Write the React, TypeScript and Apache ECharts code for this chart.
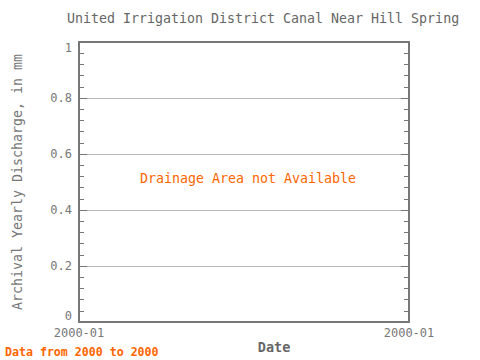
import React, { useEffect, useRef } from "react";
import * as echarts from "echarts";

const titleText = "United Irrigation District Canal Near Hill Spring";
const yAxisName = "Archival Yearly Discharge, in mm";
const xAxisName = "Date";
const xTickLabels = ["2000-01", "2000-01"];
const yTicks = [0, 0.2, 0.4, 0.6, 0.8, 1];
const noDataText = "Drainage Area not Available";
const footText = "Data from 2000 to 2000";

const FONT = "DejaVu Sans Mono";
const GRAY = "#777777";
const ORANGE = "#ff6600";

export default function App() {
  const ref = useRef<HTMLDivElement>(null);
  useEffect(() => {
    if (!ref.current) return;
    const chart = echarts.init(ref.current, undefined, { renderer: "svg" });
    const yBase = {
      type: "value",
      min: yTicks[0],
      max: yTicks[yTicks.length - 1],
      interval: 0.2,
      axisLine: { show: true, onZero: false, lineStyle: { color: GRAY, width: 2 } },
      axisTick: { show: true, inside: true, length: 8, lineStyle: { color: GRAY, width: 1 } },
      minorTick: { show: true, splitNumber: 5, length: 5, lineStyle: { color: GRAY, width: 1 } },
    };
    chart.setOption({
      animation: false,
      backgroundColor: "#ffffff",
      grid: { left: 79, right: 71, top: 42, bottom: 38, containLabel: false },
      xAxis: [
        {
          type: "value",
          min: 0,
          max: 1,
          interval: 1,
          axisLine: { show: true, onZero: false, lineStyle: { color: GRAY, width: 2 } },
          axisTick: { show: false },
          splitLine: { show: false },
          axisLabel: {
            color: GRAY,
            fontFamily: FONT,
            fontSize: 12,
            margin: 5,
            formatter: (v: number) => (v === 0 ? xTickLabels[0] : xTickLabels[1]),
          },
        },
        {
          type: "value",
          position: "top",
          min: 0,
          max: 1,
          interval: 1,
          axisLine: { show: true, onZero: false, lineStyle: { color: GRAY, width: 2 } },
          axisTick: { show: false },
          splitLine: { show: false },
          axisLabel: { show: false },
        },
      ],
      yAxis: [
        {
          ...yBase,
          position: "left",
          splitLine: { show: true, lineStyle: { color: "#bbbbbb", width: 1 } },
          axisLabel: {
            color: GRAY,
            fontFamily: FONT,
            fontSize: 12,
            margin: 7,
            verticalAlignMinLabel: "bottom",
            verticalAlignMaxLabel: "top",
            formatter: (v: number) => String(Math.round(v * 10) / 10),
          },
        },
        {
          ...yBase,
          position: "right",
          splitLine: { show: false },
          axisLabel: { show: false },
        },
      ],
      series: [
        {
          type: "line",
          data: [],
          xAxisIndex: 0,
          yAxisIndex: 0,
        },
      ],
      graphic: [
        {
          type: "text",
          x: 263,
          y: 18,
          style: {
            text: titleText,
            align: "center",
            verticalAlign: "middle",
            fill: "#666666",
            font: `13.3px "${FONT}"`,
          },
        },
        {
          type: "text",
          x: 17,
          y: 182,
          rotation: Math.PI / 2,
          style: {
            text: yAxisName,
            align: "center",
            verticalAlign: "middle",
            fill: GRAY,
            font: `13.3px "${FONT}"`,
          },
        },
        {
          type: "text",
          x: 274,
          y: 347,
          style: {
            text: xAxisName,
            align: "center",
            verticalAlign: "middle",
            fill: "#666666",
            font: `bold 13.5px "${FONT}"`,
          },
        },
        {
          type: "text",
          x: 248,
          y: 178,
          style: {
            text: noDataText,
            align: "center",
            verticalAlign: "middle",
            fill: ORANGE,
            font: `13.3px "${FONT}"`,
          },
        },
        {
          type: "text",
          x: 5,
          y: 352,
          style: {
            text: footText,
            align: "left",
            verticalAlign: "middle",
            fill: ORANGE,
            font: `bold 11.6px "${FONT}"`,
          },
        },
      ],
    });
    return () => chart.dispose();
  }, []);
  return (
    <div
      ref={ref}
      style={{ position: "fixed", left: 0, top: 0, width: 480, height: 360 }}
    />
  );
}
